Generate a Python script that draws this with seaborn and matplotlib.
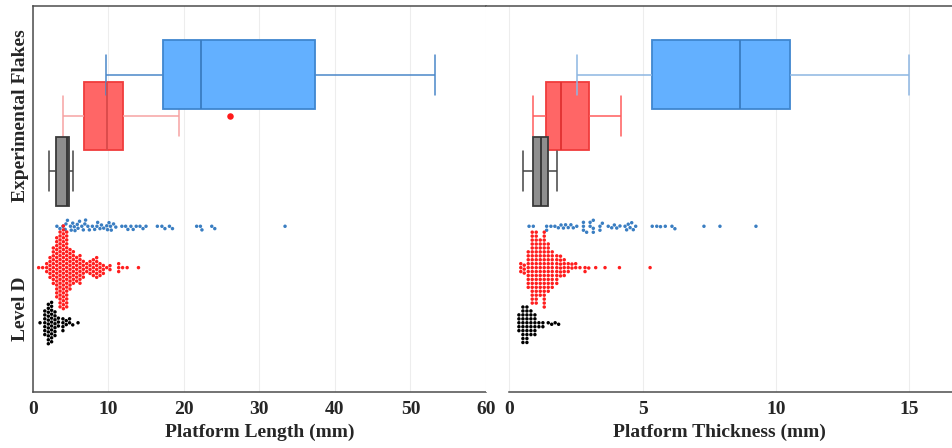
import numpy as np
import pandas as pd
import matplotlib
matplotlib.use("Agg")
import matplotlib.pyplot as plt
import seaborn as sns
from matplotlib.ticker import MultipleLocator

# ---------------- data ----------------
categories = ["Experimental Flakes", "Level D"]

# Experimental flakes: five-number summaries (min, Q1, median, Q3, max)
exp_length_blue = [9.7, 17.2, 22.3, 37.4, 53.2]
exp_length_red = [4.0, 6.8, 9.8, 12.0, 19.4]
exp_length_red_outliers = [26.1]
exp_length_gray = [2.2, 3.1, 4.5, 4.8, 5.4]

exp_thick_blue = [2.54, 5.36, 8.66, 10.51, 14.98]
exp_thick_red = [0.87, 1.39, 1.92, 3.00, 4.19]
exp_thick_gray = [0.50, 0.89, 1.17, 1.44, 1.80]

# Level D: platform length (mm)
lvlD_length_blue = [3.2, 3.6, 4.0, 4.3, 4.4, 4.6, 5.0, 5.1, 5.3, 5.5, 5.6, 5.9, 6.0,
                    6.2, 6.5, 6.7, 6.9, 7.0, 7.3, 7.5, 7.9, 8.2, 8.5, 8.6, 8.9, 9.1,
                    9.4, 9.8, 9.9, 10.1, 10.3, 10.4, 10.7, 11.0, 11.8, 12.3, 12.6,
                    13.0, 13.3, 13.7, 14.2, 14.6, 15.0, 16.5, 17.1, 17.5, 18.1, 18.5,
                    21.7, 22.2, 22.4, 23.7, 24.1, 33.4]
lvlD_length_red_values = [0.79, 1.32, 1.85, 2.29, 2.73, 3.18, 3.62, 4.06, 4.50, 4.94,
                          5.38, 5.82, 6.26, 6.70, 7.15, 7.59, 8.03, 8.47, 8.91, 9.35,
                          9.80, 10.23, 11.38, 11.90, 12.50, 14.00]
lvlD_length_red_counts = [1, 1, 3, 6, 10, 16, 20, 22, 20, 11, 9, 7, 8, 5, 3, 4, 5, 6,
                          4, 3, 1, 2, 3, 1, 1, 1]
lvlD_length_black_values = [0.97, 1.60, 2.07, 2.50, 2.95, 3.40, 4.00, 4.44, 4.88, 5.30, 6.00]
lvlD_length_black_counts = [1, 7, 11, 11, 7, 3, 4, 2, 2, 1, 1]

# Level D: platform thickness (mm)
lvlD_thick_blue = [0.74, 0.90, 1.40, 1.40, 1.56, 1.71, 1.84, 1.94, 2.03, 2.11, 2.21,
                   2.31, 2.40, 2.53, 2.78, 2.78, 2.78, 2.90, 3.03, 3.03, 3.15, 3.15,
                   3.15, 3.40, 3.40, 3.49, 3.71, 3.84, 3.94, 4.03, 4.15, 4.34, 4.40,
                   4.46, 4.53, 4.59, 4.65, 4.74, 5.36, 5.53, 5.67, 5.85, 6.10, 6.21,
                   7.30, 7.90, 9.25]
lvlD_thick_red_values = [0.43, 0.56, 0.71, 0.86, 1.01, 1.16, 1.31, 1.46, 1.61, 1.78,
                         1.92, 2.06, 2.21, 2.35, 2.49, 2.65, 2.84, 2.98, 3.24, 3.59,
                         4.13, 5.28]
lvlD_thick_red_counts = [3, 3, 10, 19, 19, 15, 20, 13, 10, 8, 6, 5, 3, 2, 2, 1, 2, 1,
                         1, 1, 1, 1]
lvlD_thick_black_values = [0.36, 0.51, 0.66, 0.81, 0.96, 1.11, 1.26, 1.46, 1.59, 1.72, 1.85]
lvlD_thick_black_counts = [5, 10, 10, 7, 6, 2, 2, 1, 1, 1, 1]

# ---------------- layout / style ----------------
ypos = {"exp_blue": 0.0, "exp_red": 0.15, "exp_gray": 0.35,
        "lvl_blue": 0.55, "lvl_red": 0.70, "lvl_black": 0.90}
cat_tick_pos = [0.15, 0.85]
YLIM = (1.15, -0.25)
BOX_W = 0.25
CAP_W = 0.145
FS = 14

C_BLUE_FACE = (0.39, 0.69, 1.0, 1.0)
C_BLUE_EDGE = "#3f86cf"
C_RED_FACE = "#ff6666"
C_RED_EDGE = "#f03c3c"
C_GRAY_FACE = "#8e8e8e"
C_GRAY_EDGE = "#3a3a3a"
C_SW_BLUE = "#3a7ec2"
C_SW_RED = "#ff1e1e"
C_SW_BLACK = "#000000"

sns.set_style("white")
plt.rcParams["font.family"] = ["Liberation Serif", "DejaVu Serif"]
plt.rcParams["font.weight"] = "bold"
plt.rcParams["axes.labelweight"] = "bold"

fig = plt.figure(figsize=(9.53, 4.48), dpi=100)
W, H = 953.0, 448.0
bot = 1 - 391.7 / H
hgt = (391.7 - 5.7) / H
axL = fig.add_axes([32.7 / W, bot, (486 - 32.7) / W, hgt])
axR = fig.add_axes([486 / W, bot, (953 - 486) / W, hgt])
for ax in (axL, axR):
    ax.set_ylim(*YLIM)


def box(ax, values, pos, face, edge, whisker, median, lw=1.3, wlw=1.1):
    df = pd.DataFrame({"value": values, "pos": np.full(len(values), float(pos))})
    sns.boxplot(data=df, x="value", y="pos", orient="y", native_scale=True,
                width=BOX_W, whis=(0, 100), showfliers=False, color=face,
                saturation=1, linecolor=edge, linewidth=lw,
                boxprops=dict(facecolor=face, edgecolor=edge, linewidth=lw),
                whiskerprops=dict(color=whisker, linewidth=wlw),
                capprops=dict(color=whisker, linewidth=wlw),
                medianprops=dict(color=median, linewidth=lw),
                capwidths=CAP_W, ax=ax)


def swarm(ax, values, pos, color):
    df = pd.DataFrame({"value": values, "pos": np.full(len(values), float(pos))})
    sns.swarmplot(data=df, x="value", y="pos", orient="y", native_scale=True,
                  size=2.5, linewidth=0.2, edgecolor="none", warn_thresh=1.0,
                  color=color, ax=ax, zorder=3)


# ---- left panel: platform length ----
box(axL, exp_length_red, ypos["exp_red"], C_RED_FACE, C_RED_EDGE, "#f6a3a3", "#d94a4a")
box(axL, exp_length_gray, ypos["exp_gray"], C_GRAY_FACE, C_GRAY_EDGE, "#444444", "#333333")
box(axL, exp_length_blue, ypos["exp_blue"], C_BLUE_FACE, C_BLUE_EDGE, "#4a87c9", "#3a7cc2")
sns.scatterplot(x=exp_length_red_outliers, y=[ypos["exp_red"]] * len(exp_length_red_outliers),
                color="#ff1a1a", s=22, linewidth=0, ax=axL, zorder=4)

swarm(axL, lvlD_length_blue, ypos["lvl_blue"], C_SW_BLUE)
swarm(axL, np.repeat(lvlD_length_red_values, lvlD_length_red_counts), ypos["lvl_red"], C_SW_RED)
swarm(axL, np.repeat(lvlD_length_black_values, lvlD_length_black_counts), ypos["lvl_black"], C_SW_BLACK)

# ---- right panel: platform thickness ----
box(axR, exp_thick_red, ypos["exp_red"], C_RED_FACE, C_RED_EDGE, "#ff5c5c", "#e03030")
box(axR, exp_thick_gray, ypos["exp_gray"], C_GRAY_FACE, C_GRAY_EDGE, "#444444", "#333333")
box(axR, exp_thick_blue, ypos["exp_blue"], C_BLUE_FACE, C_BLUE_EDGE, "#8db6e2", "#3a7cc2")

swarm(axR, lvlD_thick_blue, ypos["lvl_blue"], C_SW_BLUE)
swarm(axR, np.repeat(lvlD_thick_red_values, lvlD_thick_red_counts), ypos["lvl_red"], C_SW_RED)
swarm(axR, np.repeat(lvlD_thick_black_values, lvlD_thick_black_counts), ypos["lvl_black"], C_SW_BLACK)

# ---- axes cosmetics ----
spine_c = "#4d4d4d"
for ax in (axL, axR):
    ax.set_ylim(*YLIM)
    ax.grid(axis="x", which="major", color="#ededed", linewidth=0.8)
    ax.grid(axis="y", visible=False)
    ax.set_axisbelow(True)
    ax.spines["right"].set_visible(False)
    for s in ("top", "bottom", "left"):
        ax.spines[s].set_color(spine_c)
        ax.spines[s].set_linewidth(1.1)
    ax.tick_params(axis="x", which="major", direction="in", length=3.5, width=0.8,
                   color=spine_c, labelsize=FS, pad=7)
    ax.tick_params(axis="x", which="minor", direction="in", length=1.8, width=0.8,
                   color=spine_c)

axL.set_xlim(0, 60)
axL.xaxis.set_major_locator(MultipleLocator(10))
axL.xaxis.set_minor_locator(MultipleLocator(5))
axL.set_yticks(cat_tick_pos)
axL.set_yticklabels(categories, rotation=90, va="center", fontsize=FS, fontweight="bold")
axL.tick_params(axis="y", length=0, pad=3)
axL.set_ylabel("")
axL.set_xlabel("Platform Length (mm)", fontsize=FS, fontweight="bold", labelpad=4)

axR.set_xlim(-0.874, 16.64)
axR.xaxis.set_major_locator(MultipleLocator(5))
axR.xaxis.set_minor_locator(MultipleLocator(1))
axR.spines["left"].set_visible(False)
axR.spines["bottom"].set_bounds(0, 16.64)
axR.set_yticks([])
axR.set_ylabel("")
axR.set_xlabel("Platform Thickness (mm)", fontsize=FS, fontweight="bold", labelpad=4)

for ax in (axL, axR):
    for lab in ax.get_xticklabels():
        lab.set_fontweight("bold")
        lab.set_fontsize(FS)

fig.savefig("out.png", dpi=100)
